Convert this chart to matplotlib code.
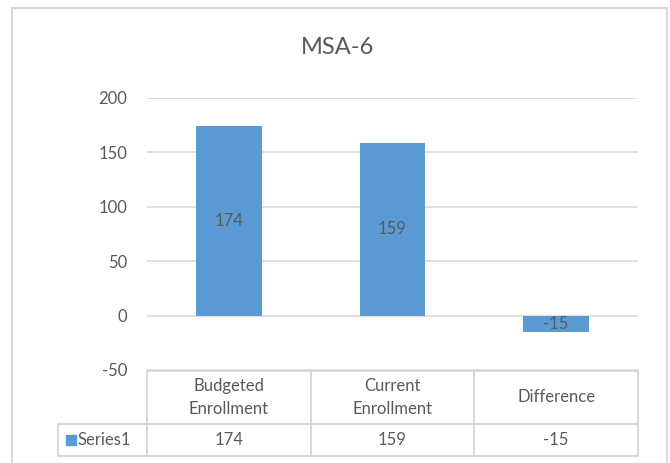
import matplotlib.pyplot as plt
from matplotlib.patches import Rectangle

plt.rcParams["font.family"] = ["Lato", "DejaVu Sans"]

categories = ["Budgeted\nEnrollment", "Current\nEnrollment", "Difference"]
values = [174, 159, -15]
series_name = "Series1"
yticks = [-50, 0, 50, 100, 150, 200]

bar_color = "#5B9BD5"
text_color = "#595959"
grid_color = "#D9D9D9"
line_color = "#D0D0D0"

W, H = 670, 463
fig = plt.figure(figsize=(W / 100, H / 100), dpi=100)

# outer chart border
fig.patches.append(Rectangle((12 / W, -0.01), (667 - 12) / W, (H - 8) / H + 0.01,
                             transform=fig.transFigure, fill=False,
                             edgecolor="#D9D9D9", linewidth=1.5))

left, right, top, bottom = 147, 638, 98, 370
ax = fig.add_axes([left / W, 1 - bottom / H, (right - left) / W, (bottom - top) / H])

x = list(range(len(values)))
ax.bar(x, values, width=0.40, color=bar_color, zorder=3)
for xi, v in zip(x, values):
    ax.text(xi, v / 2, str(v), ha="center", va="center", fontsize=12,
            color=text_color, zorder=4)

ax.set_xlim(-0.5, len(values) - 0.5)
ax.set_ylim(-50, 200)
ax.set_yticks(yticks)
ax.set_yticklabels([str(t) for t in yticks])
ax.yaxis.grid(True, color=grid_color, linewidth=1.2)
ax.set_axisbelow(True)
ax.tick_params(axis="y", length=0, pad=14, labelsize=12, labelcolor=text_color)
ax.set_xticks([])
for s in ax.spines.values():
    s.set_visible(False)

fig.text(338 / W, 1 - 47 / H, "MSA-6", ha="center", va="center",
         fontsize=17, color=text_color)

# data table under the plot area
tr = ax.get_xaxis_transform()
h_top = -1 / 272
h_mid = -(424 - bottom) / 272
h_bot = -(456 - bottom) / 272
x0 = -0.5
xl = -0.5 - (left - 58) / ((right - left) / 3)
xr = len(values) - 0.5
lk = dict(color=line_color, linewidth=1.2, transform=tr, clip_on=False)
ax.plot([x0, xr], [h_top, h_top], **lk)
ax.plot([xl, xr], [h_mid, h_mid], **lk)
ax.plot([xl, xr], [h_bot, h_bot], **lk)
ax.plot([xl, xl], [h_mid, h_bot], **lk)
for b in range(len(values) + 1):
    ax.plot([b - 0.5, b - 0.5], [h_top, h_bot], **lk)

for xi, cat, v in zip(x, categories, values):
    ax.text(xi, (h_top + h_mid) / 2, cat, transform=tr, ha="center", va="center",
            fontsize=12, color=text_color, linespacing=1.6)
    ax.text(xi, (h_mid + h_bot) / 2, str(v), transform=tr, ha="center", va="center",
            fontsize=12, color=text_color)

ax.add_patch(Rectangle((xl + 0.047, (h_mid + h_bot) / 2 - 0.02), 0.065, 0.04,
                       transform=tr, color=bar_color, clip_on=False))
ax.text(xl + 0.12, (h_mid + h_bot) / 2, series_name, transform=tr, ha="left",
        va="center", fontsize=12, color=text_color)

fig.savefig("out.png", dpi=100)
